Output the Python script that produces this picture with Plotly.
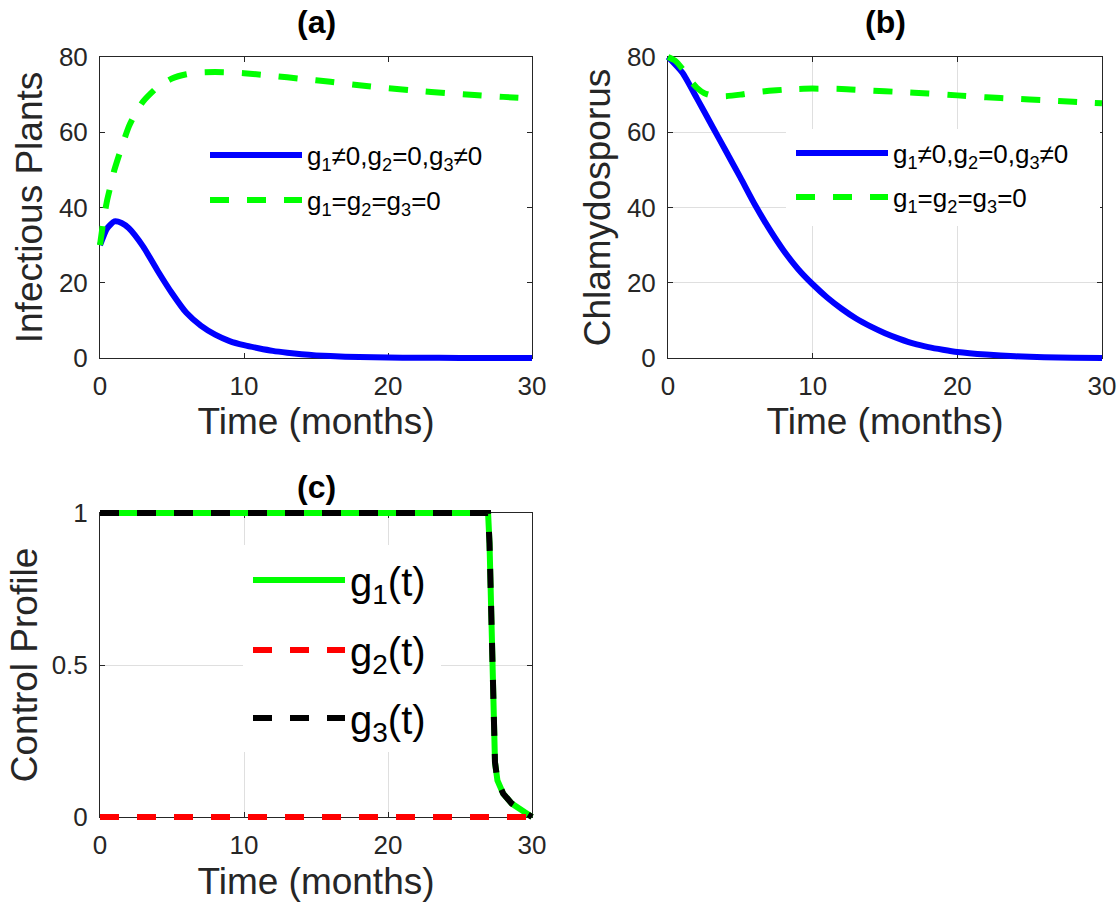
import plotly.graph_objects as go

# ---------------- data ----------------
# (a) Infectious plants
t_inf_ctrl = [0, 0.5, 1, 1.5, 2, 3, 4, 5, 6, 7, 8, 9, 10, 11, 12, 13, 14, 15, 16, 18, 20, 22, 25, 30]
inf_ctrl = [30, 34.5, 36.3, 35.9, 34.5, 29.6, 23.2, 17.2, 12.0, 8.6, 6.2, 4.5, 3.4, 2.6, 1.9, 1.4,
            1.0, 0.7, 0.5, 0.25, 0.12, 0.06, 0.02, 0.0]
t_inf_free = [0, 0.25, 0.5, 0.75, 1, 1.5, 2, 2.5, 3, 4, 5, 6, 7, 8, 9, 10, 12, 14, 16, 18, 20, 22,
              24, 26, 28, 30]
inf_free = [30, 36.8, 42, 46, 50, 56, 61.5, 65.3, 68.2, 72, 74.3, 75.4, 75.9, 76, 75.9, 75.7, 75,
            74.2, 73.4, 72.5, 71.7, 71.0, 70.4, 69.9, 69.4, 69.0]

# (b) Chlamydosporus
t_spo_ctrl = [0, 1, 2, 3, 4, 5, 6, 7, 8, 9, 10, 11, 12, 13, 14, 15, 16, 17, 18, 19, 20, 22, 24,
              26, 28, 30]
spo_ctrl = [80, 75.8, 69, 62, 55, 48, 40.8, 34.3, 28.5, 23.6, 19.6, 16.1, 13.1, 10.5, 8.4, 6.6,
            5.1, 3.8, 2.9, 2.2, 1.6, 0.9, 0.45, 0.2, 0.08, 0.02]
t_spo_free = [0, 0.5, 1, 1.5, 2, 2.5, 3, 3.5, 4, 5, 6, 7, 8, 9, 10, 12, 14, 16, 18, 20, 22, 24,
              26, 28, 30]
spo_free = [80, 79, 76.8, 74, 71.8, 70.4, 69.8, 69.6, 69.6, 70.0, 70.6, 71.0, 71.3, 71.5, 71.6,
            71.5, 71.1, 70.7, 70.3, 69.8, 69.3, 68.9, 68.5, 68.1, 67.7]

# (c) Control profiles
t_ctrl = [0, 26.95, 27.05, 27.12, 27.24, 27.36, 27.43, 27.6, 28.0, 28.6, 29.3, 30]
g1 = [1, 1, 0.9, 0.75, 0.5, 0.31, 0.18, 0.12, 0.077, 0.044, 0.022, 0]
g2 = [0, 0, 0, 0, 0, 0, 0, 0, 0, 0, 0, 0]
g3 = [1, 1, 0.9, 0.75, 0.5, 0.31, 0.18, 0.12, 0.077, 0.044, 0.022, 0]

x_ticks = [0, 10, 20, 30]
pop_ticks = [0, 20, 40, 60, 80]
ctrl_ticks = [0, 0.5, 1]
ctrl_ticktext = ["0", "0.5", "1"]

lab_ctrl = "g<sub>1</sub>≠0,g<sub>2</sub>=0,g<sub>3</sub>≠0"
lab_free = "g<sub>1</sub>=g<sub>2</sub>=g<sub>3</sub>=0"
lab_g = ["g<sub>1</sub>(t)", "g<sub>2</sub>(t)", "g<sub>3</sub>(t)"]

# ---------------- styling / layout ----------------
W, H = 1119, 912
FONT = "Liberation Sans, Arial, Helvetica, sans-serif"
INK = "#262626"
GRID = "#dfdfdf"
BLUE, GREEN, RED, BLACK = "#0000ff", "#00ff00", "#ff0000", "#000000"
LW = 6
DASH = "19px,18px"
PAD = 6  # px of extra room so thick lines on the frame are not clipped

panels = [
    dict(L=100, R=532, T=57, B=358, xr=[0, 30], yr=[0, 80], ytv=pop_ticks, ytt=None,
         grid=False, ytitle="Infectious Plants", title="(a)", ystand=4, xstand=4, ty=22),
    dict(L=668, R=1102, T=57, B=358, xr=[0, 30], yr=[0, 80], ytv=pop_ticks, ytt=None,
         grid=True, ytitle="Chlamydosporus", title="(b)", ystand=4, xstand=4, ty=22),
    dict(L=100, R=532, T=513, B=817, xr=[0, 30], yr=[0, 1], ytv=ctrl_ticks, ytt=ctrl_ticktext,
         grid=True, ytitle="Control Profile", title="(c)", ystand=2, xstand=8, ty=487),
]


def px2paper_x(px):
    return px / W


def px2paper_y(py):
    return 1 - py / H


layout = dict(
    width=W, height=H,
    margin=dict(l=0, r=0, t=0, b=0),
    paper_bgcolor="white",
    plot_bgcolor="rgba(0,0,0,0)",
    font=dict(family=FONT, color=INK),
    showlegend=True,
    annotations=[],
    shapes=[],
)

for i, p in enumerate(panels, start=1):
    sfx = "" if i == 1 else str(i)
    j = i + 3
    L, R, T, B = p["L"], p["R"], p["T"], p["B"]
    tickfont = dict(size=26, family=FONT, color=INK)
    common = dict(
        showline=True, linecolor=INK, linewidth=1, mirror="ticks",
        ticks="inside", ticklen=5, tickwidth=1, tickcolor=INK,
        tickfont=tickfont, showgrid=p["grid"], gridcolor=GRID, gridwidth=1,
        zeroline=False, automargin=False, fixedrange=True, ticklabeloverflow="allow",
    )
    layout["xaxis" + sfx] = dict(
        domain=[px2paper_x(L), px2paper_x(R)], range=p["xr"], anchor="y" + sfx,
        tickvals=x_ticks, ticklabelstandoff=5,
        title=dict(text="Time (months)", font=dict(size=37, family=FONT, color=INK),
                   standoff=p["xstand"]),
        **common)
    ykw = dict(tickvals=p["ytv"])
    if p["ytt"]:
        ykw["ticktext"] = p["ytt"]
    layout["yaxis" + sfx] = dict(
        domain=[px2paper_y(B), px2paper_y(T)], range=p["yr"], anchor="x" + sfx,
        ticklabelstandoff=6,
        title=dict(text=p["ytitle"], font=dict(size=37, family=FONT, color=INK),
                   standoff=p["ystand"]),
        **ykw, **common)
    # data axes: same scale, a few px larger so thick lines on the frame stay whole
    sx = (p["xr"][1] - p["xr"][0]) / (R - L)
    sy = (p["yr"][1] - p["yr"][0]) / (B - T)
    layout["xaxis%d" % j] = dict(
        domain=[px2paper_x(L - PAD), px2paper_x(R + PAD)],
        range=[p["xr"][0] - PAD * sx, p["xr"][1] + PAD * sx],
        anchor="y%d" % j, visible=False, fixedrange=True)
    layout["yaxis%d" % j] = dict(
        domain=[px2paper_y(B + PAD), px2paper_y(T - PAD)],
        range=[p["yr"][0] - PAD * sy, p["yr"][1] + PAD * sy],
        anchor="x%d" % j, visible=False, fixedrange=True)
    layout["annotations"].append(dict(
        text="<b>%s</b>" % p["title"], x=px2paper_x((L + R) / 2), xref="paper",
        xanchor="center", y=px2paper_y(p["ty"]), yref="paper", yanchor="middle",
        showarrow=False, font=dict(size=32, family=FONT, color="#000000")))

# white boxes behind the legends (hide the grid, as the MATLAB legend box does)
layout["shapes"].append(dict(type="rect", xref="paper", yref="paper", layer="above",
                             x0=px2paper_x(786), x1=px2paper_x(1100),
                             y0=px2paper_y(226), y1=px2paper_y(129),
                             fillcolor="white", line=dict(width=0)))
layout["shapes"].append(dict(type="rect", xref="paper", yref="paper", layer="above",
                             x0=px2paper_x(243), x1=px2paper_x(441),
                             y0=px2paper_y(752), y1=px2paper_y(545),
                             fillcolor="white", line=dict(width=0)))


def leg(x_px, y_px, size):
    return dict(x=px2paper_x(x_px - 5), y=px2paper_y(y_px), xanchor="left", yanchor="middle",
                bgcolor="rgba(0,0,0,0)", borderwidth=0, itemwidth=92,
                font=dict(size=size, family=FONT, color="#000000"))


layout["legend"] = leg(210, 155, 26)
layout["legend2"] = leg(210, 200, 26)
layout["legend3"] = leg(796, 153, 26)
layout["legend4"] = leg(796, 197, 26)
layout["legend5"] = leg(253, 580, 40)
layout["legend6"] = leg(253, 650, 40)
layout["legend7"] = leg(253, 718, 40)

fig = go.Figure()
# empty traces so that the framed (visible) axes are created and drawn
for i in range(1, 4):
    sfx = "" if i == 1 else str(i)
    fig.add_trace(go.Scatter(x=[], y=[], xaxis="x" + sfx, yaxis="y" + sfx, mode="lines",
                             showlegend=False, hoverinfo="skip"))

SM = dict(shape="spline", smoothing=0.6)
# (a)
fig.add_trace(go.Scatter(x=t_inf_ctrl, y=inf_ctrl, xaxis="x4", yaxis="y4", mode="lines",
                         line=dict(color=BLUE, width=LW, **SM), name=lab_ctrl, legend="legend"))
fig.add_trace(go.Scatter(x=t_inf_free, y=inf_free, xaxis="x4", yaxis="y4", mode="lines",
                         line=dict(color=GREEN, width=LW, dash=DASH, **SM), name=lab_free,
                         legend="legend2"))
# (b)
fig.add_trace(go.Scatter(x=t_spo_ctrl, y=spo_ctrl, xaxis="x5", yaxis="y5", mode="lines",
                         line=dict(color=BLUE, width=LW, **SM), name=lab_ctrl, legend="legend3"))
fig.add_trace(go.Scatter(x=t_spo_free, y=spo_free, xaxis="x5", yaxis="y5", mode="lines",
                         line=dict(color=GREEN, width=LW, dash=DASH, **SM), name=lab_free,
                         legend="legend4"))
# (c)
fig.add_trace(go.Scatter(x=t_ctrl, y=g1, xaxis="x6", yaxis="y6", mode="lines",
                         line=dict(color=GREEN, width=LW), name=lab_g[0], legend="legend5"))
fig.add_trace(go.Scatter(x=t_ctrl, y=g2, xaxis="x6", yaxis="y6", mode="lines",
                         line=dict(color=RED, width=LW, dash=DASH), name=lab_g[1],
                         legend="legend6"))
fig.add_trace(go.Scatter(x=t_ctrl, y=g3, xaxis="x6", yaxis="y6", mode="lines",
                         line=dict(color=BLACK, width=LW, dash=DASH), name=lab_g[2],
                         legend="legend7"))

fig.update_layout(**layout)
# remove the default 8 px page margin so the 1119x912 figure fills the window exactly
fig.write_html("out.html",
               config={"displayModeBar": False},
               post_script="document.body.style.margin='0';"
                           "document.body.style.overflow='hidden';")
